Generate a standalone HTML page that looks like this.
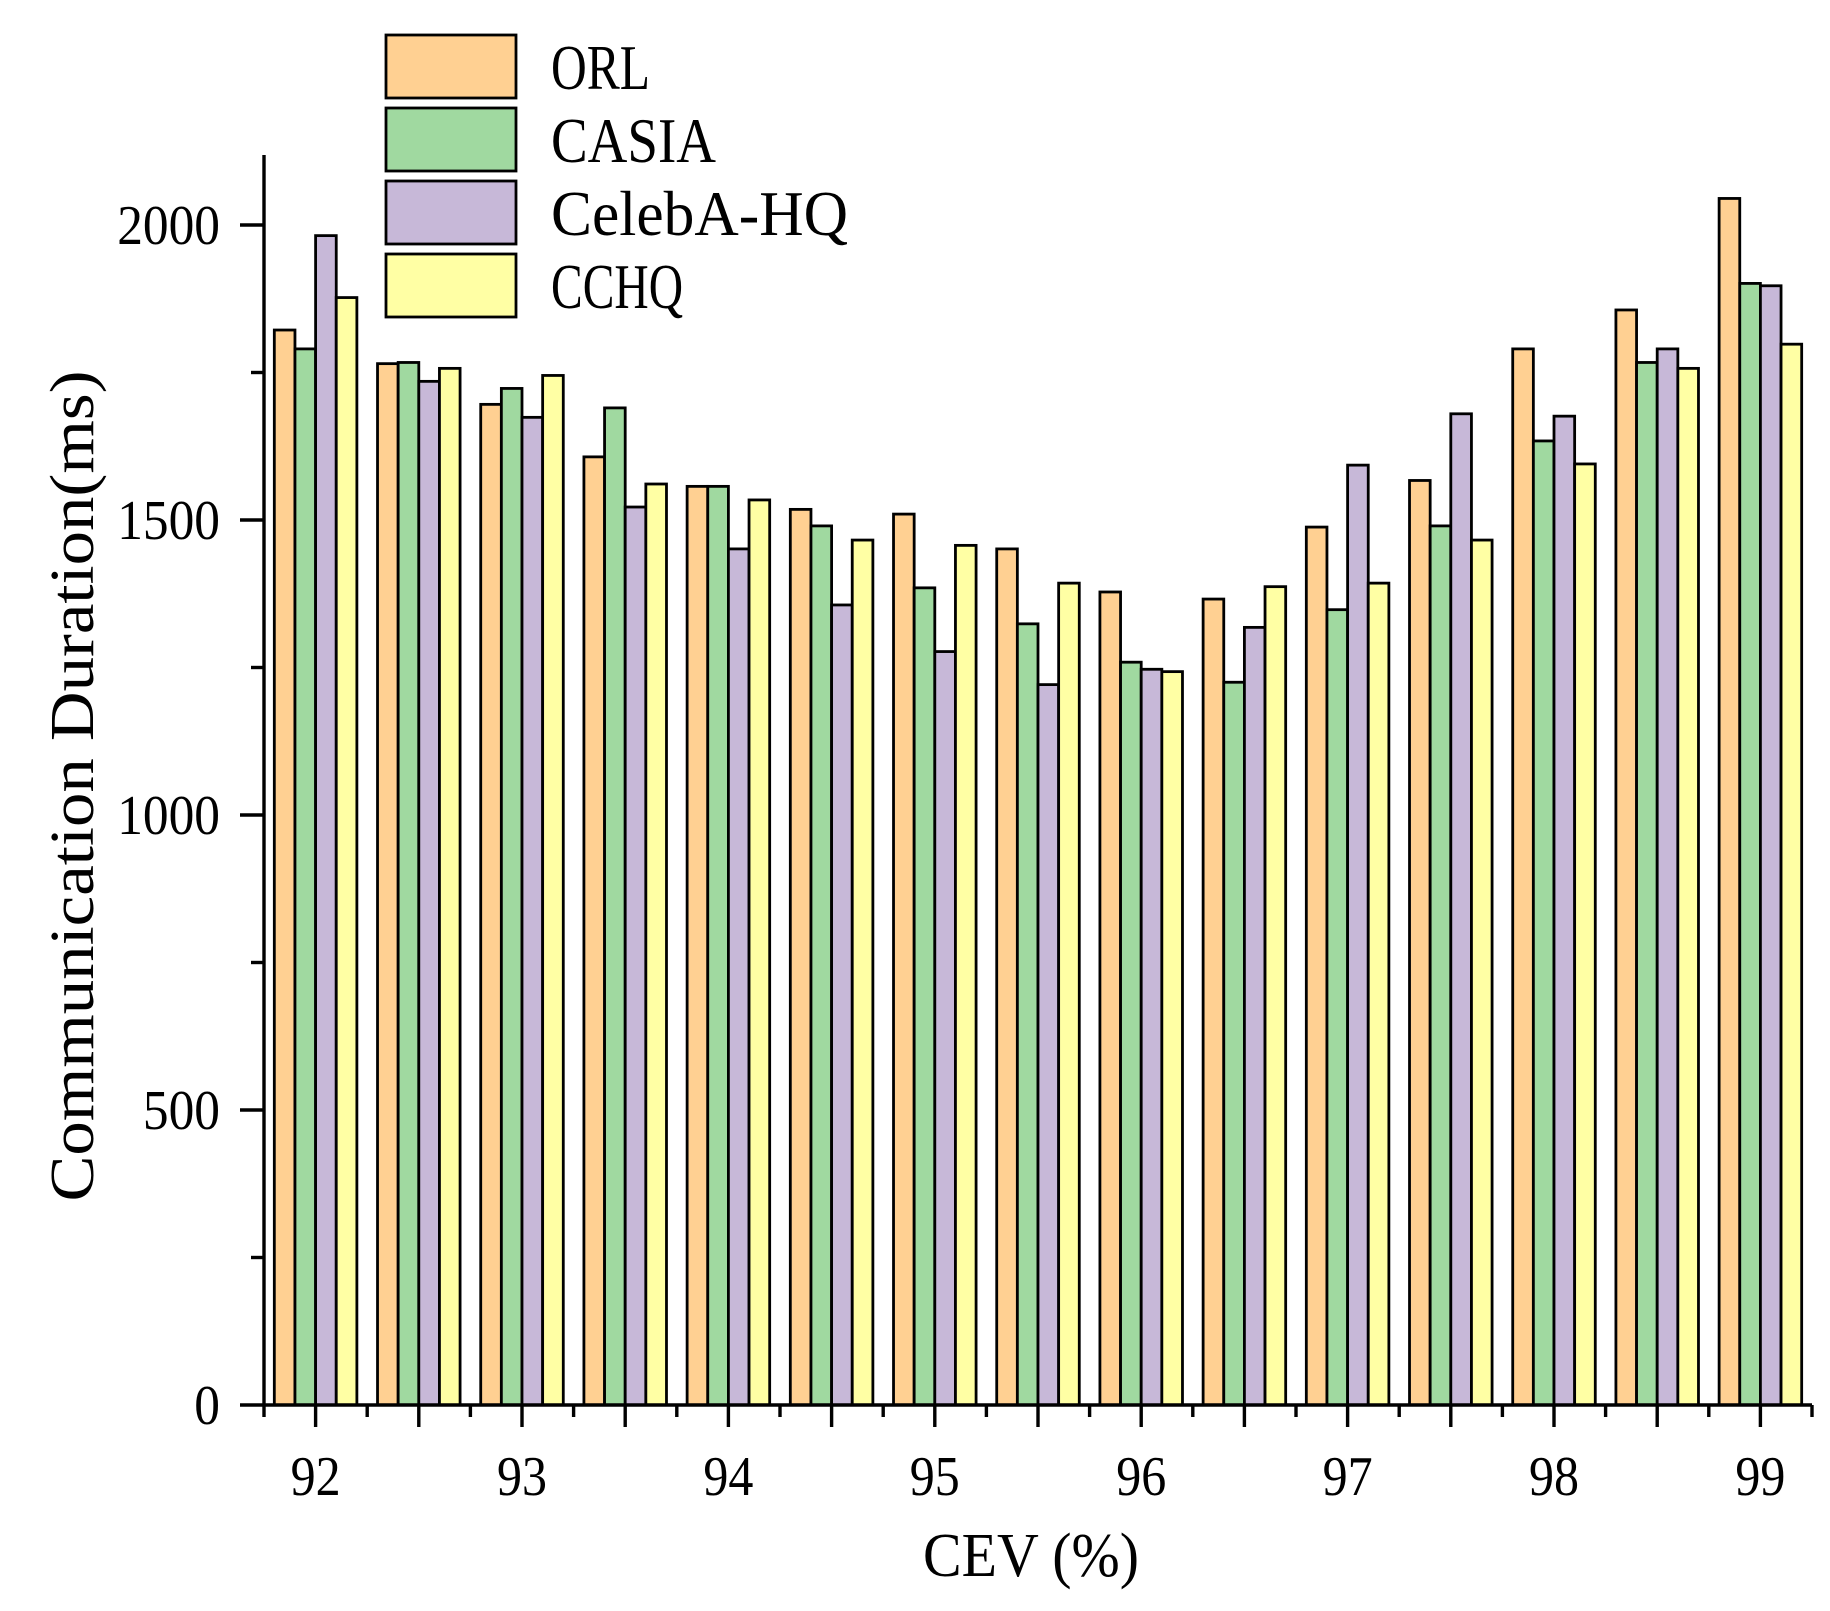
<!DOCTYPE html>
<html><head><meta charset="utf-8"><style>
html,body{margin:0;padding:0;background:#fff;}
svg{display:block;}
text{font-family:"Liberation Serif",serif;fill:#000;}
</style></head><body>
<svg id="chart" width="1830" height="1611" viewBox="0 0 1830 1611" xmlns="http://www.w3.org/2000/svg"></svg>
<script>
const categories=[92,92.5,93,93.5,94,94.5,95,95.5,96,96.5,97,97.5,98,98.5,99];
const seriesNames=["ORL","CASIA","CelebA-HQ","CCHQ"];
const orl=[1822,1765,1696,1607,1557,1518,1510,1451,1378,1366,1488,1567,1790,1856,2045];
const casia=[1790,1767,1723,1690,1557,1490,1385,1324,1259,1225,1348,1490,1634,1767,1901];
const celeba=[1982,1735,1674,1522,1451,1356,1277,1221,1247,1318,1593,1680,1676,1790,1897];
const cchq=[1877,1757,1745,1561,1534,1466,1457,1393,1243,1387,1393,1466,1595,1757,1798];
const yTickLabels=[0,500,1000,1500,2000];
const xTickLabels=[92,93,94,95,96,97,98,99];
const series=[orl,casia,celeba,cchq];
const colors=["#FFD092","#A0D9A0","#C7B8D8","#FFFFA4"];
const NS="http://www.w3.org/2000/svg";
const svg=document.getElementById('chart');
const X0=264,X1=1812,XMIN=91.75,XMAX=99.25,Y0=1405,YPX=0.59;
function xs(v){return X0+(v-XMIN)/(XMAX-XMIN)*(X1-X0);}
function ys(v){return Y0-v*YPX;}
function mk(tag,attrs,parent){const e=document.createElementNS(NS,tag);for(const k in attrs)e.setAttribute(k,attrs[k]);(parent||svg).appendChild(e);return e;}
const unit=(X1-X0)/(XMAX-XMIN);
const bw=0.1*unit;
const barsG=mk('g',{});


categories.forEach((c,i)=>{
  series.forEach((s,j)=>{
    const x=xs(c)-2*bw+j*bw;
    const r=mk('rect',{x:x,y:ys(s[i]),width:bw,height:Y0-ys(s[i]),fill:colors[j],stroke:'#000','stroke-width':2.8},barsG);
    
    
  });
});
const ax=mk('g',{stroke:'#000','stroke-width':3.4});


mk('line',{x1:X0,y1:155,x2:X0,y2:Y0+1.5},ax);
mk('line',{x1:X0-1.5,y1:Y0,x2:X1,y2:Y0},ax);
for(let v=0;v<=2000;v+=250){
  const major=v%500===0;
  mk('line',{x1:X0-(major?24:13),y1:ys(v),x2:X0,y2:ys(v)},ax);
}
for(let v=XMIN;v<=XMAX+1e-6;v+=0.25){
  const major=Math.abs(v*2-Math.round(v*2))<1e-6;
  mk('line',{x1:xs(v),y1:Y0,x2:xs(v),y2:Y0+(major?22:12)},ax);
}
yTickLabels.forEach(v=>{
  const s=String(v);
  const t=mk('text',{x:220,y:ys(v)+19,'text-anchor':'end','font-size':56,textLength:s.length*25.7,lengthAdjust:'spacingAndGlyphs'});
  t.textContent=s;
  
  
});
xTickLabels.forEach(v=>{
  const t=mk('text',{x:xs(v),y:1495,'text-anchor':'middle','font-size':56,textLength:50,lengthAdjust:'spacingAndGlyphs'});
  t.textContent=v;
  
  
});
const xt=mk('text',{x:1031,y:1576,'text-anchor':'middle','font-size':62,textLength:216,lengthAdjust:'spacingAndGlyphs'});
xt.textContent='CEV (%)';


const yt=mk('text',{x:0,y:0,'text-anchor':'middle','font-size':62,textLength:831,lengthAdjust:'spacingAndGlyphs',transform:'translate(93,786) rotate(-90)'});
yt.textContent='Communication Duration(ms)';


const lg=mk('g',{});


const ly=[35,108,181,254];
seriesNames.forEach((n,j)=>{
  const r=mk('rect',{x:386,y:ly[j],width:130,height:63,fill:colors[j],stroke:'#000','stroke-width':2.8},lg);
  
  
  const t=mk('text',{x:551,y:ly[j]+54,'font-size':64,textLength:n.length*33,lengthAdjust:'spacingAndGlyphs'},lg);
  t.textContent=n;
  
  
});
</script>
</body></html>
